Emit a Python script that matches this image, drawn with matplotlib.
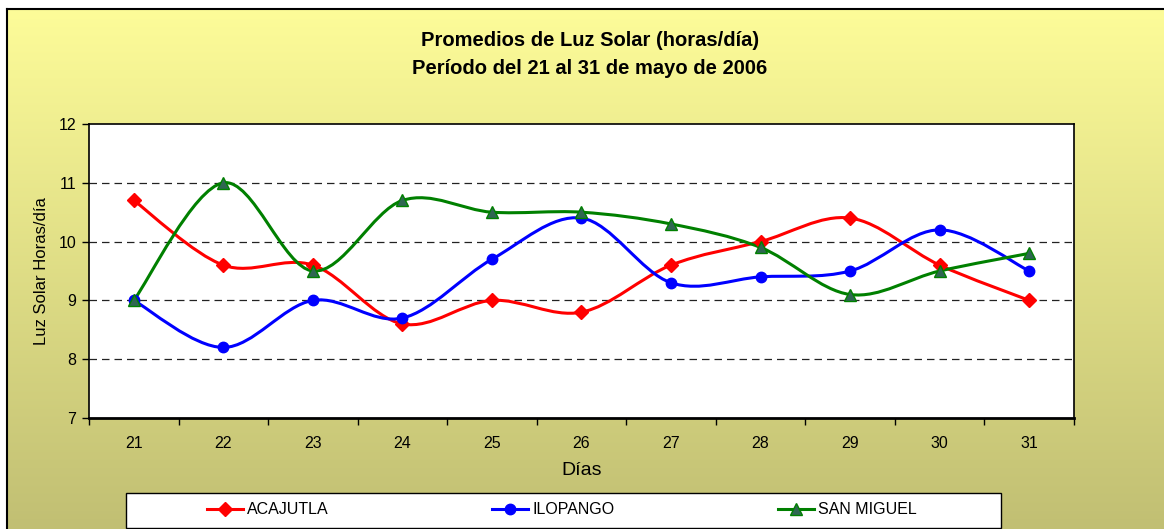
import numpy as np
import matplotlib
matplotlib.use("Agg")
from matplotlib import pyplot as plt
from matplotlib.path import Path
from matplotlib.patches import PathPatch, Rectangle
from matplotlib.lines import Line2D

plt.rcParams['font.family'] = ['Liberation Sans', 'DejaVu Sans']

# data
dias = [21, 22, 23, 24, 25, 26, 27, 28, 29, 30, 31]
acajutla = [10.7, 9.6, 9.6, 8.6, 9.0, 8.8, 9.6, 10.0, 10.4, 9.6, 9.0]
ilopango = [9.0, 8.2, 9.0, 8.7, 9.7, 10.4, 9.3, 9.4, 9.5, 10.2, 9.5]
san_miguel = [9.0, 11.0, 9.5, 10.7, 10.5, 10.5, 10.3, 9.9, 9.1, 9.5, 9.8]
nombres = ['ACAJUTLA', 'ILOPANGO', 'SAN MIGUEL']


def smooth_path(x, y):
    # bezier control points like excel smoothed lines
    p = np.column_stack([x, y]).astype(float)
    n = len(p)
    verts = [p[0]]
    codes = [Path.MOVETO]
    for i in range(n - 1):
        p0 = p[i - 1] if i > 0 else p[i]
        p3 = p[i + 2] if i + 2 < n else p[i + 1]
        c1 = p[i] + (p[i + 1] - p0) / 6.0
        c2 = p[i + 1] - (p3 - p[i]) / 6.0
        verts += [c1, c2, p[i + 1]]
        codes += [Path.CURVE4] * 3
    return Path(verts, codes)


W, H = 1164, 529
fig = plt.figure(figsize=(W / 100, H / 100), dpi=100)
fig.patch.set_facecolor('white')

# chart area background with gradient
bg = fig.add_axes([7 / W, 0, 1 - 7 / W, 1 - 9 / H], zorder=-5)
grad = np.linspace(0, 1, 256)[:, None]
top = np.array([253, 252, 153]) / 255
bot = np.array([193, 191, 115]) / 255
img = top[None, None, :] * (1 - grad[:, :, None]) + bot[None, None, :] * grad[:, :, None]
bg.imshow(img, aspect='auto', extent=[0, 1, 0, 1], origin='upper')
bg.set_xlim(0, 1)
bg.set_ylim(0, 1)
bg.set_xticks([])
bg.set_yticks([])
for s in ['right', 'bottom']:
    bg.spines[s].set_visible(False)
for s in ['left', 'top']:
    bg.spines[s].set_linewidth(1.5)

ax = fig.add_axes([89 / W, 1 - 418 / H, (1074 - 89) / W, (418 - 124) / H])
ax.set_facecolor('white')
ax.set_xlim(20.5, 31.5)
ax.set_ylim(7, 12)

for v in [8, 9, 10, 11]:
    ax.axhline(v, color='#222222', lw=0.9, ls=(0, (6, 4)), zorder=1)

series = [
    (acajutla, '#FF0000', 'D', '#FF0000', '#FF0000', 7),
    (ilopango, '#0000FF', 'o', '#0000FF', '#0000FF', 7.5),
    (san_miguel, '#008000', '^', '#2F6652', '#008000', 8.5),
]
handles = []
for (vals, col, mk, fc, ec, ms), name in zip(series, nombres):
    ax.add_patch(PathPatch(smooth_path(dias, vals), fill=False, edgecolor=col,
                           lw=2.2, zorder=3, capstyle='round', joinstyle='round'))
    ax.plot(dias, vals, ls='none', marker=mk, ms=ms, mfc=fc, mec=ec, mew=1, zorder=4)
    handles.append(Line2D([], [], color=col, lw=2.2, marker=mk, ms=ms, mfc=fc, mec=ec, label=name))

ax.set_yticks([7, 8, 9, 10, 11, 12])
ax.set_yticklabels(['7', '8', '9', '10', '11', '12'], fontsize=11.5)
ax.tick_params(axis='y', direction='out', length=5, width=1, pad=4)
ax.set_xticks(np.arange(20.5, 32, 1))
ax.set_xticklabels([])
ax.set_xticks(dias, minor=True)
ax.set_xticklabels([str(d) for d in dias], minor=True, fontsize=11.5)
ax.tick_params(axis='x', which='major', direction='out', length=5, width=1)
ax.tick_params(axis='x', which='minor', length=0, pad=13)

for s in ['top', 'right', 'left']:
    ax.spines[s].set_linewidth(1.2)
ax.spines['bottom'].set_linewidth(2)

ax.set_ylabel('Luz Solar Horas/día', fontsize=12, labelpad=7)
ax.set_xlabel('Días', fontsize=14, labelpad=8)

fig.text(590 / W, 1 - 40 / H, 'Promedios de Luz Solar (horas/día)', ha='center', va='center',
         fontsize=14.5, fontweight='bold')
fig.text(590 / W, 1 - 68 / H, 'Período del 21 al 31 de mayo de 2006', ha='center', va='center',
         fontsize=14.5, fontweight='bold')

# legend box
fig.patches.append(Rectangle((126 / W, 1 - 528 / H), (1001 - 126) / W, 35 / H,
                             transform=fig.transFigure, facecolor='white',
                             edgecolor='black', lw=1, zorder=1))
fig.legend(handles=handles, loc='center left', bbox_to_anchor=(207 / W, 1 - 510 / H),
           ncol=3, frameon=False, fontsize=11.5, handlelength=2.25, handletextpad=0.25,
           columnspacing=10.25, borderpad=0, borderaxespad=0)

fig.savefig('out.png', dpi=100)
